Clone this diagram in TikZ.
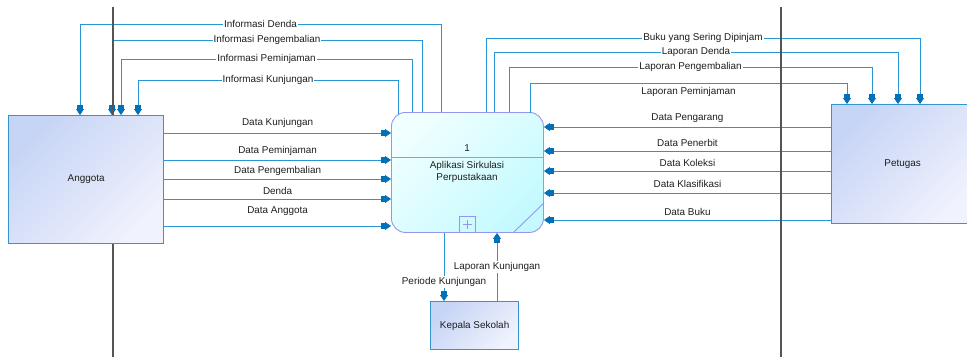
\documentclass[tikz,border=0pt]{standalone}
\usepackage{fontspec}
\setmainfont{Liberation Sans}
\usetikzlibrary{arrows.meta,calc}

\definecolor{flowc}{RGB}{40,150,212}
\definecolor{tipc}{RGB}{0,112,184}
\definecolor{entb}{RGB}{52,150,208}
\definecolor{ent1}{RGB}{198,212,245}
\definecolor{ent2}{RGB}{240,242,253}
\definecolor{procb}{RGB}{150,150,240}
\definecolor{proc1}{RGB}{240,255,255}
\definecolor{proc2}{RGB}{196,250,255}
\definecolor{txt}{RGB}{30,30,30}
\definecolor{lane}{RGB}{85,85,85}

\tikzset{
  every node/.style={font=\fontsize{9.9}{11.5}\selectfont, text=txt},
  entity/.style={draw=entb, line width=1.2pt, top color=ent1, bottom color=ent2,
    shading angle=45, inner sep=0pt, anchor=north west},
  procbox/.style={draw=procb, line width=0.9pt, rounded corners=14pt,
    top color=proc1, bottom color=proc2, shading angle=45, inner sep=0pt,
    anchor=north west, minimum width=152pt, minimum height=120pt},
  procline/.style={draw=procb, line width=0.9pt},
  flow/.style={draw=flowc, line width=0.8pt,
    -{Rectangle[length=4pt,width=6.5pt,color=tipc]Triangle[length=6pt,width=8pt,color=tipc]}},
  lbl/.style={fill=white, inner sep=1pt},
  divider/.style={draw=lane, line width=1.3pt},
}

\begin{document}
\begin{tikzpicture}[x=1pt,y=-1pt]
\useasboundingbox (0,0) rectangle (967,357);

% external entities and the process
\node[entity, minimum width=155pt, minimum height=128pt] (ang) at (8,115) {};
\node (angtxt) at (ang.center) {Anggota};
\node[entity, minimum width=142pt, minimum height=119pt] (pet) at (831,104) {};
\node (pettxt) at (pet.center) {Petugas};
\node[entity, minimum width=88pt, minimum height=48pt] (kep) at (430,301) {};
\node (keptxt) at (kep.center) {Kepala Sekolah};

\node[procbox] (proc) at (391,112) {};
\draw[procline] (proc.west |- 0,157) -- (proc.east |- 0,157);
\node (pnum) at (467,148) {1};
\node[align=center] (pname) at (467,172) {Aplikasi Sirkulasi\\Perpustakaan};
\node[draw=procb, line width=0.9pt, minimum size=16pt, inner sep=0pt, anchor=south] (plus) at (proc.south) {};
\draw[procline, line width=0.7pt] ($(plus.center)+(-4.5,0)$) -- ($(plus.center)+(4.5,0)$)
  ($(plus.center)+(0,-4.5)$) -- ($(plus.center)+(0,4.5)$);
\draw[procline] (proc.east |- 0,203) -- (proc.south -| 513,0);

% flows from the process back to Anggota
\draw[flow] (proc.north -| 441,0) -- (441,24) -- node[lbl]{Informasi Denda} (80,24) -- (ang.north -| 80,0);
\draw[flow] (proc.north -| 422,0) -- (422,40) -- node[lbl]{Informasi Pengembalian} (112,40) -- (ang.north -| 112,0);
\draw[flow] (proc.north -| 412,0) -- (412,59) -- node[lbl]{Informasi Peminjaman} (121,59) -- (ang.north -| 121,0);
\draw[flow] ($(proc.north -| 398,0)+(0,2)$) -- (398,80) -- node[lbl]{Informasi Kunjungan} (138,80) -- (ang.north -| 138,0);

% flows from the process to Petugas
\draw[flow] (proc.north -| 486,0) -- (486,38) -- node[lbl]{Buku yang Sering Dipinjam} (920,38) -- (pet.north -| 920,0);
\draw[flow] (proc.north -| 494,0) -- (494,52) -- node[lbl]{Laporan Denda} (898,52) -- (pet.north -| 898,0);
\draw[flow] (proc.north -| 509,0) -- (509,67) -- node[lbl]{Laporan Pengembalian} (872,67) -- (pet.north -| 872,0);
\draw[flow] ($(proc.north -| 530,0)+(0,1)$) -- (530,83) -- node[yshift=-9pt]{Laporan Peminjaman} (847,83) -- (pet.north -| 847,0);

% flows from Anggota into the process
\draw[flow] (ang.east |- 0,133) -- node[yshift=10pt]{Data Kunjungan} (proc.west |- 0,133);
\draw[flow] (ang.east |- 0,160) -- node[yshift=9pt]{Data Peminjaman} (proc.west |- 0,160);
\draw[flow] (ang.east |- 0,179) -- node[yshift=8pt]{Data Pengembalian} (proc.west |- 0,179);
\draw[flow] (ang.east |- 0,199) -- node[yshift=8pt]{Denda} (proc.west |- 0,199);
\draw[flow] (ang.east |- 0,226) -- node[yshift=15pt]{Data Anggota} (proc.west |- 0,226);

% flows from Petugas into the process
\draw[flow] (pet.west |- 0,127) -- node[yshift=9pt]{Data Pengarang} (proc.east |- 0,127);
\draw[flow] (pet.west |- 0,151) -- node[yshift=8pt]{Data Penerbit} (proc.east |- 0,151);
\draw[flow] (pet.west |- 0,171) -- node[yshift=8pt]{Data Koleksi} (proc.east |- 0,171);
\draw[flow] (pet.west |- 0,193) -- node[yshift=9pt]{Data Klasifikasi} (proc.east |- 0,193);
\draw[flow] (pet.west |- 0,220) -- node[yshift=8pt]{Data Buku} (proc.east |- 0,220);

% flows between the process and Kepala Sekolah
\draw[flow] (proc.south -| 444,0) -- node[lbl, pos=0.72]{Periode Kunjungan} (kep.north -| 444,0);
\draw[flow] (kep.north -| 497,0) -- node[lbl, pos=0.5]{Laporan Kunjungan} (proc.south -| 497,0);

% lane dividers
\coordinate (laneAtop) at (113,7);
\coordinate (laneAbot) at (113,357);
\coordinate (laneBtop) at (781,7);
\coordinate (laneBbot) at (781,357);
\draw[divider] (laneAtop) -- (ang.north -| laneAtop);
\draw[divider] (ang.south -| laneAbot) -- (laneAbot);
\draw[divider] (laneBtop) -- (laneBbot);
\end{tikzpicture}
\end{document}
